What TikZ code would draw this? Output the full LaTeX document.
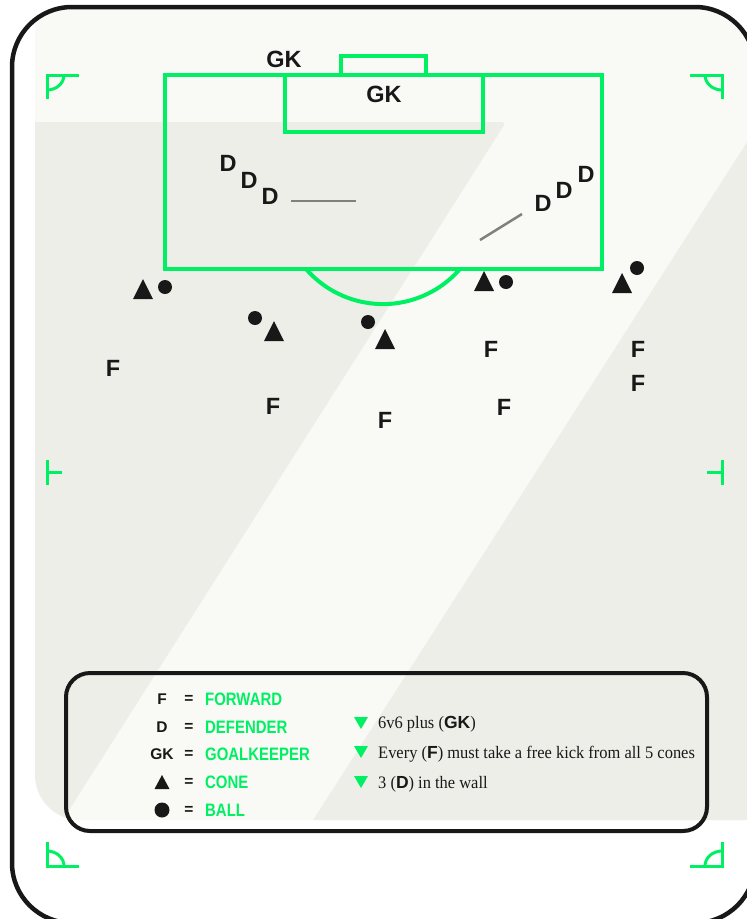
\documentclass[tikz,border=0pt]{standalone}
\usepackage{fontspec}
\usepackage{tikz}
\usetikzlibrary{calc}
\setmainfont{Liberation Serif}
\newfontfamily\pitchfont{Liberation Sans}
\newfontfamily\labelfont[FakeStretch=0.83]{Liberation Sans}
\newfontfamily\rulefont[FakeStretch=0.94]{Liberation Serif}
\definecolor{pitchgreen}{RGB}{0, 240, 100}
\definecolor{pitchlight}{RGB}{249, 250, 245}
\definecolor{pitchgrey}{RGB}{238, 238, 233}
\definecolor{inkblack}{RGB}{24, 24, 24}
\definecolor{wallgrey}{RGB}{128, 128, 124}

\tikzset{
  player/.style={font=\pitchfont\bfseries\fontsize{23.5}{23.5}\selectfont, text=inkblack, inner sep=0pt},
  keysym/.style={font=\pitchfont\bfseries\fontsize{15.5}{15.5}\selectfont, text=inkblack, inner sep=0pt},
  keylabel/.style={font=\labelfont\bfseries\fontsize{18}{18}\selectfont, text=pitchgreen, inner sep=0pt, anchor=west},
  ruletext/.style={font=\rulefont\fontsize{17.5}{17.5}\selectfont, text=inkblack, inner sep=0pt, anchor=base west},
  pitchline/.style={draw=pitchgreen, line width=4pt},
  cornerline/.style={draw=pitchgreen, line width=3pt},
  wallline/.style={draw=wallgrey, line width=2.5pt},
}

\begin{document}
\begin{tikzpicture}[x=1pt, y=-1pt]
        \useasboundingbox (0,0) rectangle (747,919);
        \clip (0,0) rectangle (747,919);

        % Pitch background with the diagonal shading
        \begin{scope}
          \clip[rounded corners=60pt] (12,7) rectangle (755,923);
          \fill[pitchlight, rounded corners=45pt] (35,-100) rectangle (800,820);
          \clip[rounded corners=45pt] (35,-100) rectangle (800,820);
          \fill[pitchgrey, rounded corners=4pt] (0,122) -- (506,122) -- (12,900) -- (0,900) -- cycle;
          \fill[pitchgrey] (838,0) -- (262,900) -- (800,900) -- (800,0) -- cycle;
        \end{scope}

        % Penalty area, goal area, goal
        \draw[pitchline] (165,75) rectangle (602,269);
        \draw[pitchline] (285,75) rectangle (483,132);
        \draw[pitchline] (341,56) rectangle (426,75);
        \draw[pitchline] (460,269) arc[start angle=41, end angle=139, radius=102];

        % Corner and halfway marks
        \foreach \cx/\cy/\sx/\sy in {47/75/1/1, 722/75/-1/1, 47/866/1/-1, 722/866/-1/-1}{
          \begin{scope}[shift={(\cx,\cy)}, xscale=\sx, yscale=\sy]
            \draw[cornerline] (32,0) -- (0,0) -- (0,24);
            \draw[cornerline] (17,0) .. controls (17,8.3) and (9.4,15) .. (0,15);
          \end{scope}
        }
        \foreach \cx/\sx in {47/1, 722/-1}{
          \begin{scope}[shift={(\cx,472)}, xscale=\sx]
            \draw[cornerline] (0,-12) -- (0,13);
            \draw[cornerline] (0,0) -- (15,0);
          \end{scope}
        }

        % Goalkeepers
        \node[player] (gk1) at (284,59) {GK};
        \node[player] (gk2) at (384,94) {GK};

        % Defenders in the two walls
        \foreach \x/\y [count=\i] in {228/163, 249/180, 270/196, 543/203, 564/190, 586/174}
          \node[player] (d\i) at (\x,\y) {D};
        \coordinate (wall1a) at (291,201);
        \coordinate (wall1b) at (356,201);
        \coordinate (wall2a) at (480,240);
        \coordinate (wall2b) at (522,214);
        \draw[wallline] (wall1a) -- (wall1b);
        \draw[wallline] (wall2a) -- (wall2b);

        % Forwards
        \foreach \x/\y [count=\i] in {113/368, 273/406, 385/420, 491/349, 504/407, 638/349, 638/383}
          \node[player] (f\i) at (\x,\y) {F};

        % Cones and balls
        \foreach \x/\y [count=\i] in {143/289, 274/331, 385/339, 484/281, 622/283}{
          \coordinate (cone\i) at (\x,\y);
          \begin{scope}[shift={(\x,\y)}]
            \fill[inkblack] (-10,10) -- (10,10) -- (0,-10) -- cycle;
          \end{scope}
        }
        \foreach \x/\y [count=\i] in {165/287, 255/318, 368/322, 506/282, 637/268}
          \fill[inkblack] (\x,\y) circle[radius=7];

        % Key
        \draw[inkblack, line width=4pt, rounded corners=24pt] (66,673) rectangle (707,831);
        \foreach \y/\sym/\lab [count=\i] in {699/F/FORWARD, 727/D/DEFENDER, 754/GK/GOALKEEPER}{
          \node[keysym] (sym\i) at (162,\y) {\sym};
          \node[keysym] (eq\i) at (189,\y) {=};
          \node[keylabel] (lab\i) at (205,\y) {\lab};
        }
        \begin{scope}[shift={(162,782)}]
          \fill[inkblack] (-7.5,7) -- (7.5,7) -- (0,-7) -- cycle;
        \end{scope}
        \fill[inkblack] (162,810) circle[radius=7.5];
        \node[keysym] (eq4) at (189,782) {=};
        \node[keysym] (eq5) at (189,810) {=};
        \node[keylabel] (lab4) at (205,782) {CONE};
        \node[keylabel] (lab5) at (205,810) {BALL};

        % Rules of the drill
        \foreach \y in {717, 746, 776}{
          \begin{scope}[shift={(361,\y)}]
            \fill[pitchgreen] (-7,0) -- (7,0) -- (0,12) -- cycle;
          \end{scope}
        }
        \node[ruletext] (rule1) at (378,728) {6v6 plus ({\pitchfont\bfseries GK})};
        \node[ruletext] (rule2) at (378,758) {Every ({\pitchfont\bfseries F}) must take a free kick from all 5 cones};
        \node[ruletext] (rule3) at (378,788) {3 ({\pitchfont\bfseries D}) in the wall};

        % Card outline
        \draw[inkblack, line width=4.5pt, rounded corners=60pt] (12,7) rectangle (755,923);
      \end{tikzpicture}
\end{document}
